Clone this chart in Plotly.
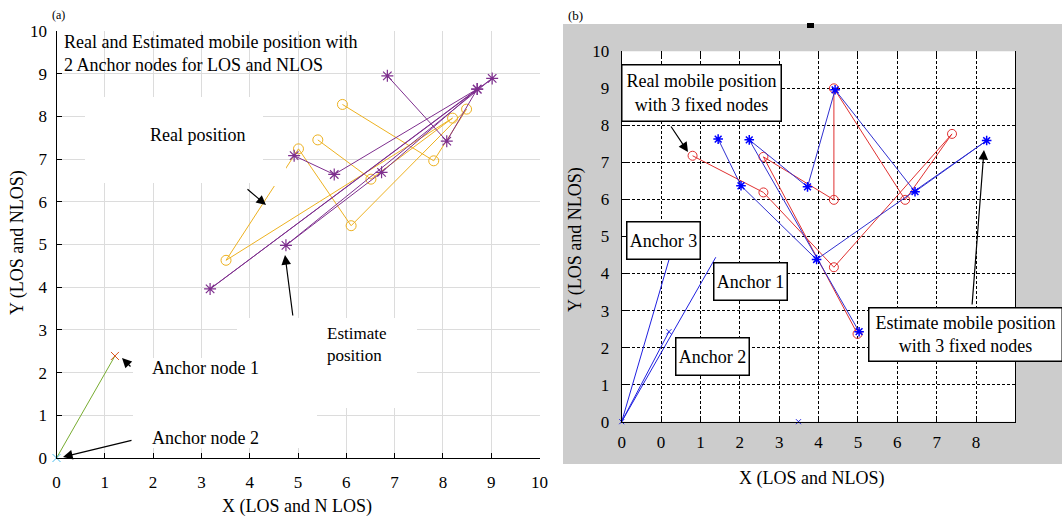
import plotly.graph_objects as go

# ---------------- data: panel (a) ----------------
a_est_x = [6.85, 8.08, 8.71, 3.18, 9.02, 4.75, 6.73, 8.71, 5.75, 4.92]
a_est_y = [8.95, 7.42, 8.64, 3.96, 8.89, 4.98, 6.69, 8.64, 6.64, 7.08]
a_real_x = [5.92, 7.81, 8.49, 6.10, 5.01, 3.51, 8.20, 6.51, 5.41]
a_real_y = [8.28, 6.96, 8.17, 5.44, 7.24, 4.63, 7.96, 6.53, 7.45]
a_anchor_x = [0.0, 1.21]
a_anchor_y = [0.0, 2.39]
a_ticks = list(range(0, 11))

# ---------------- data: panel (b) ----------------
b_real_x = [1.80, 3.60, 5.39, 8.39, 7.20, 5.39, 5.39, 3.60, 5.99]
b_real_y = [7.18, 6.19, 4.17, 7.77, 5.99, 9.00, 5.99, 7.15, 2.37]
b_est_x = [6.03, 3.24, 4.72, 5.42, 7.45, 9.27, 4.95, 3.03, 2.45]
b_est_y = [2.43, 7.61, 6.34, 8.96, 6.21, 7.59, 4.38, 6.37, 7.63]
b_anchor_line_x = [1.20, 0.0, 2.39, None, 0.0, 1.20]
b_anchor_line_y = [4.37, 0.0, 4.44, None, 0.0, 2.43]
b_anchor_x = [0.0, 1.20, 4.49]
b_anchor_y = [0.0, 2.43, 0.0]
b_xtickvals = list(range(0, 11))
b_xticktext = ["0", "0", "1", "2", "3", "4", "5", "6", "7", "8", ""]
b_yticks = list(range(0, 11))

W, H = 1062, 516
def px(x):
    return x / W
def py(y):
    return 1 - y / H

SERIF = "Liberation Serif"
PURPLE = "#7E2F8E"
YELLOW = "#EDB120"
BLUE_LINE = "#2020E0"

fig = go.Figure()

# panel (a)
fig.add_trace(go.Scatter(x=a_anchor_x, y=a_anchor_y, mode="lines", line=dict(color="#77AC30", width=1),
                         xaxis="x", yaxis="y", showlegend=False, hoverinfo="skip"))
fig.add_trace(go.Scatter(x=[a_anchor_x[0]], y=[a_anchor_y[0]], mode="markers",
                         marker=dict(symbol="x-thin-open", size=8, color="#4DBEEE", line=dict(color="#4DBEEE", width=1)),
                         xaxis="x", yaxis="y", showlegend=False, cliponaxis=False))
fig.add_trace(go.Scatter(x=[a_anchor_x[1]], y=[a_anchor_y[1]], mode="markers",
                         marker=dict(symbol="x-thin-open", size=8, color="#D95319", line=dict(color="#D95319", width=1)),
                         xaxis="x", yaxis="y", showlegend=False))
fig.add_trace(go.Scatter(x=a_real_x, y=a_real_y, mode="lines+markers",
                         line=dict(color=YELLOW, width=1),
                         marker=dict(symbol="circle-open", size=10, color=YELLOW, line=dict(width=1)),
                         xaxis="x", yaxis="y", showlegend=False))
fig.add_trace(go.Scatter(x=a_est_x, y=a_est_y, mode="lines+markers",
                         line=dict(color=PURPLE, width=1),
                         marker=dict(symbol="asterisk-open", size=10, color=PURPLE, line=dict(width=1.2, color=PURPLE)),
                         xaxis="x", yaxis="y", showlegend=False))

# panel (b)
fig.add_trace(go.Scatter(x=b_anchor_line_x, y=b_anchor_line_y, mode="lines", line=dict(color=BLUE_LINE, width=1),
                         xaxis="x2", yaxis="y2", showlegend=False, hoverinfo="skip"))
fig.add_trace(go.Scatter(x=b_anchor_x, y=b_anchor_y, mode="markers",
                         marker=dict(symbol="x-thin-open", size=5, color=BLUE_LINE, line=dict(color=BLUE_LINE, width=1)),
                         xaxis="x2", yaxis="y2", showlegend=False, cliponaxis=False))
fig.add_trace(go.Scatter(x=b_real_x, y=b_real_y, mode="lines+markers",
                         line=dict(color="#E03030", width=1),
                         marker=dict(symbol="circle-open", size=9, color="#E03030", line=dict(width=1)),
                         xaxis="x2", yaxis="y2", showlegend=False))
fig.add_trace(go.Scatter(x=b_est_x, y=b_est_y, mode="lines+markers",
                         line=dict(color="#3030D0", width=1),
                         marker=dict(symbol="asterisk-open", size=8, color="#0000FF", line=dict(width=1.5, color="#0000FF")),
                         xaxis="x2", yaxis="y2", showlegend=False))
# invisible trace to activate the top tick axis of panel (b)
fig.add_trace(go.Scatter(x=[None], y=[None], xaxis="x3", yaxis="y2", showlegend=False))

tickfont = dict(family=SERIF, size=17, color="black")
a_ax = dict(range=[0, 10], showline=True, linecolor="black", linewidth=1, ticks="inside", ticklen=5,
            tickcolor="black", showgrid=True, gridcolor="#DCDCDC", gridwidth=1, zeroline=False,
            tickvals=a_ticks, tickfont=tickfont, fixedrange=True, automargin=False)
b_ax = dict(range=[0, 10], showline=True, linecolor="black", linewidth=1, ticks="inside", ticklen=5,
            tickcolor="black", showgrid=True, gridcolor="black", gridwidth=1, griddash="3px,2px",
            zeroline=False, tickfont=tickfont, fixedrange=True, automargin=False)

fig.update_layout(
    width=W, height=H, autosize=False,
    margin=dict(l=0, r=0, t=0, b=0, pad=0),
    paper_bgcolor="white", plot_bgcolor="rgba(0,0,0,0)",
    xaxis=dict(domain=[px(56.5), px(539.5)], anchor="y", ticklabelstandoff=9, **a_ax),
    yaxis=dict(domain=[py(458), py(31)], anchor="x", ticklabelstandoff=5, **a_ax),
    xaxis2=dict(domain=[px(621.7), px(1015.4)], anchor="y2", tickvals=b_xtickvals, ticktext=b_xticktext,
                ticklabelstandoff=5, **b_ax),
    yaxis2=dict(domain=[py(421.7), py(51.3)], anchor="x2", tickvals=b_yticks, mirror=True,
                ticklabelstandoff=8, **b_ax),
    xaxis3=dict(overlaying="x2", side="top", anchor="y2", range=[0, 10], tickvals=b_xtickvals,
                showticklabels=False, ticks="inside", ticklen=5, tickcolor="black", automargin=False,
                showgrid=False, showline=False, zeroline=False, fixedrange=True),
)

shapes = []
# grey figure background of panel (b) and its white plot area
shapes.append(dict(type="rect", xref="paper", yref="paper", x0=px(563), x1=1.0, y0=py(464), y1=py(24),
                   fillcolor="#CCCCCC", line=dict(width=0), layer="below"))
shapes.append(dict(type="rect", xref="paper", yref="paper", x0=px(621.7), x1=px(1015.4), y0=py(421.7), y1=py(51.3),
                   fillcolor="white", line=dict(width=0), layer="below"))
shapes.append(dict(type="rect", xref="paper", yref="paper", x0=px(807), x1=px(814), y0=py(28), y1=py(23),
                   fillcolor="black", line=dict(width=0), layer="above"))
# white pasted label patches of panel (a)
for (x0, x1, y0, y1) in [(85, 263, 97, 183), (263, 286, 160, 186), (237, 417, 318, 408), (133, 317, 358, 448)]:
    shapes.append(dict(type="rect", xref="paper", yref="paper", x0=px(x0), x1=px(x1), y0=py(y1), y1=py(y0),
                       fillcolor="white", line=dict(width=0), layer="above"))
fig.update_layout(shapes=shapes)

ann = []
def text(x, y, s, size=18, xanchor="center", yanchor="middle", angle=0, align="center"):
    ann.append(dict(x=px(x), y=py(y), xref="paper", yref="paper", text=s, showarrow=False,
                    xanchor=xanchor, yanchor=yanchor, textangle=angle, align=align,
                    font=dict(family=SERIF, size=size, color="black")))

def boxed(x, y, s, w, h):
    ann.append(dict(x=px(x), y=py(y), xref="paper", yref="paper", text=s, showarrow=False,
                    xanchor="center", yanchor="middle", width=w, height=h, align="center",
                    bgcolor="white", bordercolor="black", borderwidth=1.5, borderpad=0,
                    font=dict(family=SERIF, size=18, color="black")))

def arrow(hx, hy, tx, ty):
    ann.append(dict(x=px(hx), y=py(hy), xref="paper", yref="paper", text="", showarrow=True,
                    ax=tx - hx, ay=ty - hy, axref="pixel", ayref="pixel",
                    arrowhead=2, arrowsize=1.6, arrowwidth=1.2, arrowcolor="black", standoff=0))

# panel (a) texts
text(58, 15, "(a)", size=12)
text(62, 30, "Real and Estimated mobile position with<br>2 Anchor nodes for LOS and NLOS",
     xanchor="left", yanchor="top", align="left")
text(198, 135, "Real position")
text(325, 344, "Estimate<br>position", xanchor="left", align="left", size=17)
text(150, 368, "Anchor node 1", xanchor="left")
text(150, 438, "Anchor node 2", xanchor="left")
text(18, 243, "Y (LOS and NLOS)", size=18, angle=-90)
text(297, 506, "X (LOS and N LOS)", size=18)
arrow(266, 205, 246, 188)
arrow(285, 255, 293, 317)
arrow(122, 358, 132, 368)
arrow(63, 457, 133, 440)

# panel (b) texts
text(575, 15, "(b)", size=13)
boxed(701.5, 93, "Real mobile position<br>with 3 fixed nodes", 158, 55)
boxed(663, 241, "Anchor 3", 72, 36)
boxed(750, 281, "Anchor 1", 72, 36)
boxed(712, 356, "Anchor 2", 72, 36)
boxed(966, 334, "Estimate mobile position<br>with 3 fixed nodes", 192, 52)
text(576, 240, "Y (LOS and NLOS)", size=18, angle=-90)
text(812, 478, "X (LOS and NLOS)", size=18)
arrow(688, 152, 670, 125)
arrow(984, 150, 972, 306)

fig.update_layout(annotations=ann)
fig.write_html(
    "out.html",
    config={"displayModeBar": False},
    post_script=(
        "document.documentElement.style.margin='0';"
        "document.documentElement.style.overflow='hidden';"
        "document.body.style.margin='0';"
        "document.body.style.overflow='hidden';"
    ),
)
